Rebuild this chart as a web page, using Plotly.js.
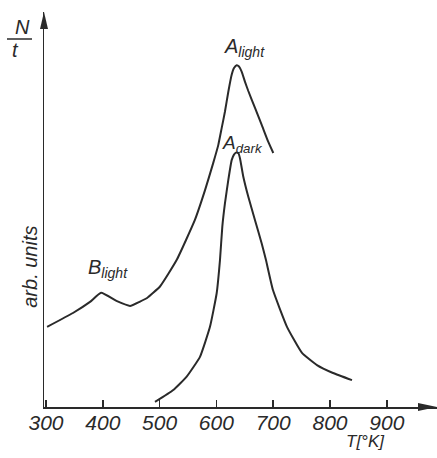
<!DOCTYPE html>
<html>
<head>
<meta charset="utf-8">
<script src="https://cdn.plot.ly/plotly-3.0.1.min.js"></script>
<style>html,body{margin:0;padding:0;background:#fff;}#chart{width:437px;height:458px;}</style>
</head>
<body>
<div id="chart"></div>
<script>
// Temperature T [°K] and signal N/t (arbitrary units, 0–100)
var lightT = [302, 347.5, 377.5, 397, 425, 448, 465.5, 478, 500.7, 530, 562, 580, 594.5, 603.3, 609.3, 615.1, 621, 626.9, 631, 635.7, 639.8, 644.5, 650.4, 656.2, 668, 679.8, 691.4, 700.2];
var lightV = [20.3, 23.8, 26.6, 28.9, 26.8, 25.6, 26.7, 27.6, 30.5, 37.2, 47.3, 54.9, 61.8, 66.3, 70.6, 74.8, 79.8, 84.1, 85.8, 86.5, 86.2, 84.9, 82.3, 80.0, 75.7, 71.4, 67.1, 64.3];
var darkT = [491.9, 524.1, 547.7, 571.1, 588.7, 600.5, 606.3, 610.4, 615.1, 621, 626.9, 631, 634.5, 638.9, 641.5, 647.4, 656.2, 668, 679.8, 687.3, 699.6, 724.3, 750.7, 777.1, 805.3, 838.7];
var darkV = [1.3, 4.3, 7.7, 12.7, 20.3, 28.8, 37.2, 45.6, 51.6, 57.5, 62.5, 63.9, 64.4, 64.2, 63.0, 58.3, 53.2, 47.3, 41.4, 37.2, 29.6, 20.3, 13.7, 10.6, 8.6, 6.8];
var tickVals = [300, 400, 500, 600, 700, 800, 900];
var tickText = ["300", "400", "500", "600", "700", "800", "900"];

var ink = "#2a2a2a";
var lineStyle = {color: ink, width: 2, shape: "spline", smoothing: 0.4};

var traces = [
  {x: lightT, y: lightV, mode: "lines", line: lineStyle, hoverinfo: "skip", showlegend: false},
  {x: darkT, y: darkV, mode: "lines", line: lineStyle, hoverinfo: "skip", showlegend: false}
];

var narrow = "Liberation Sans Narrow, Liberation Sans, sans-serif";
var italicFont = function (s) { return {family: narrow, size: s, color: ink, style: "italic"}; };

var layout = {
  width: 437, height: 458,
  margin: {l: 44, r: 0, t: 12, b: 51, pad: 0},
  paper_bgcolor: "#fff", plot_bgcolor: "#fff",
  xaxis: {
    range: [296.5, 988.4], showgrid: false, zeroline: false,
    showline: true, linecolor: ink, linewidth: 1.5,
    tickmode: "array", tickvals: tickVals, ticktext: tickText,
    ticks: "inside", ticklen: 7, tickwidth: 1.5, tickcolor: ink,
    ticklabelstandoff: -4,
    tickfont: italicFont(21), fixedrange: true
  },
  yaxis: {
    range: [0, 100], showgrid: false, zeroline: false,
    showline: true, linecolor: ink, linewidth: 1.5,
    showticklabels: false, ticks: "", fixedrange: true
  },
  shapes: [
    {type: "path", xref: "paper", yref: "paper", xsizemode: "pixel", ysizemode: "pixel",
     xanchor: 1, yanchor: 0, path: "M0,0 L-19,4 L-19,-4 Z", fillcolor: ink, line: {width: 0}},
    {type: "path", xref: "paper", yref: "paper", xsizemode: "pixel", ysizemode: "pixel",
     xanchor: 0, yanchor: 1, path: "M0,0 L-4,-17 L4,-17 Z", fillcolor: ink, line: {width: 0}},
    {type: "line", xref: "paper", yref: "paper", xsizemode: "pixel", ysizemode: "pixel",
     xanchor: 0, yanchor: 1, x0: -37, x1: -12, y0: -27, y1: -27, line: {color: ink, width: 1.5}}
  ],
  annotations: [
    {xref: "paper", yref: "paper", x: 0, y: 1, xshift: -22, yshift: -15, text: "N", showarrow: false,
     font: italicFont(20), xanchor: "center", yanchor: "middle"},
    {xref: "paper", yref: "paper", x: 0, y: 1, xshift: -29, yshift: -38, text: "t", showarrow: false,
     font: italicFont(20), xanchor: "center", yanchor: "middle"},
    {xref: "paper", yref: "paper", x: 0, y: 0.355, xshift: -14, text: "arb. units", showarrow: false,
     textangle: -90, font: italicFont(20), xanchor: "center", yanchor: "middle"},
    {xref: "paper", yref: "paper", x: 1, y: 0, xshift: -72, yshift: -34, text: "T[°K]", showarrow: false,
     font: italicFont(17), xanchor: "center", yanchor: "middle"},
    {x: 650, y: 91, text: "A<sub>light</sub>", showarrow: false,
     font: italicFont(20), xanchor: "center", yanchor: "middle"},
    {x: 646, y: 66.5, text: "A<sub>dark</sub>", showarrow: false,
     font: italicFont(19), xanchor: "center", yanchor: "middle"},
    {x: 410, y: 35, text: "B<sub>light</sub>", showarrow: false,
     font: italicFont(20), xanchor: "center", yanchor: "middle"}
  ]
};

Plotly.newPlot("chart", traces, layout, {displayModeBar: false, staticPlot: true});
</script>
</body>
</html>
